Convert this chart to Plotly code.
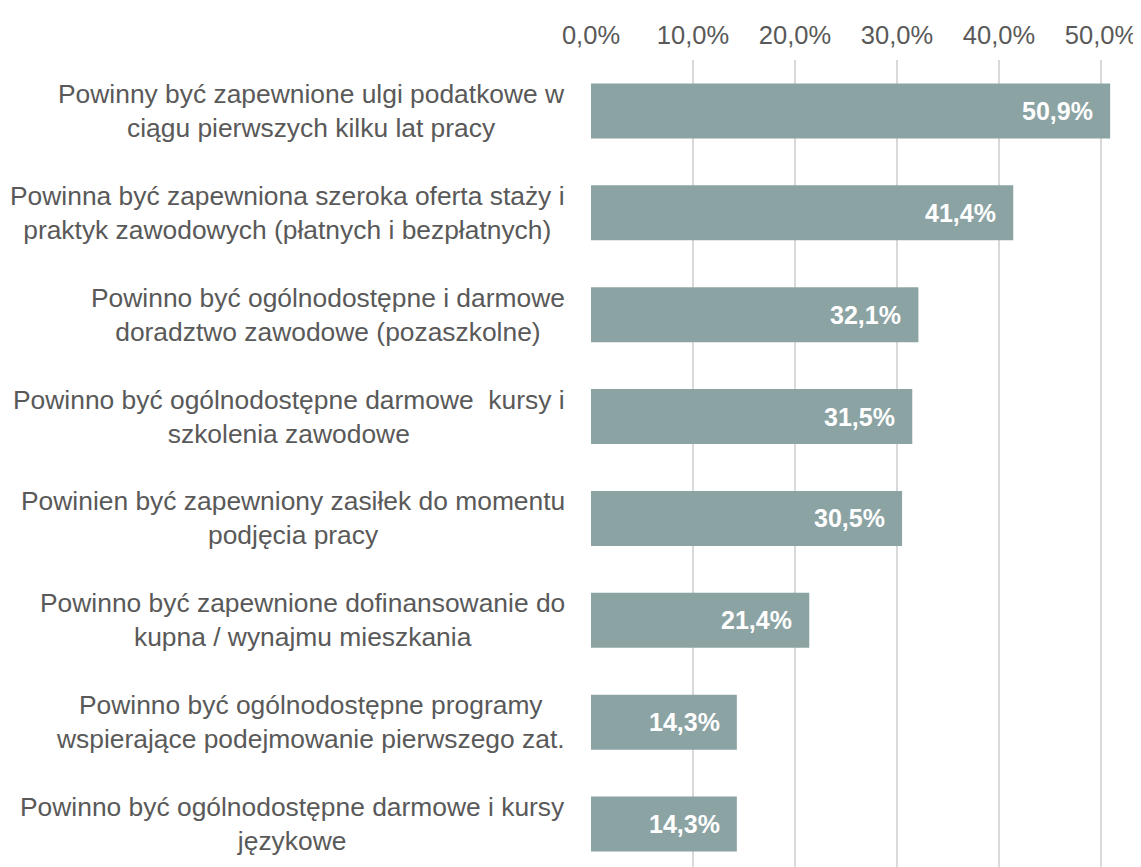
import plotly.graph_objects as go

categories = [
    "Powinny być zapewnione ulgi podatkowe w<br>ciągu pierwszych kilku lat pracy",
    "Powinna być zapewniona szeroka oferta staży i<br>praktyk zawodowych (płatnych i bezpłatnych)",
    "Powinno być ogólnodostępne i darmowe<br>doradztwo zawodowe (pozaszkolne)",
    "Powinno być ogólnodostępne darmowe  kursy i<br>szkolenia zawodowe",
    "Powinien być zapewniony zasiłek do momentu<br>podjęcia pracy",
    "Powinno być zapewnione dofinansowanie do<br>kupna / wynajmu mieszkania",
    "Powinno być ogólnodostępne programy<br>wspierające podejmowanie pierwszego zat.",
    "Powinno być ogólnodostępne darmowe i kursy<br>językowe",
]
values = [0.509, 0.414, 0.321, 0.315, 0.305, 0.214, 0.143, 0.143]
tick_values = [0, 0.1, 0.2, 0.3, 0.4, 0.5]

ypos = list(range(len(categories)))
FONT = "Liberation Sans, Arial, sans-serif"

fig = go.Figure(
    go.Bar(
        x=values,
        y=ypos,
        orientation="h",
        marker=dict(color="#8CA3A4", line=dict(width=0)),
        width=0.54,
        hoverinfo="x",
    )
)

for i, (cat, v) in enumerate(zip(categories, values)):
    fig.add_annotation(
        x=0, xref="paper", y=i, yref="y",
        text=cat, showarrow=False,
        xanchor="right", yanchor="middle", align="center",
        xshift=-24,
        font=dict(size=26.4, color="#595959", family=FONT),
    )
    fig.add_annotation(
        x=v, xref="x", y=i, yref="y",
        text=f"<b>{v*100:.1f}%</b>".replace(".", ","), showarrow=False,
        xanchor="right", yanchor="middle", xshift=-15,
        font=dict(size=25, color="white", family=FONT),
    )

fig.update_layout(
    width=1141, height=867,
    margin=dict(l=583, r=16, t=52, b=0),
    plot_bgcolor="white", paper_bgcolor="white",
    separators=", ",
    showlegend=False,
    bargap=0.46,
    font=dict(family=FONT, color="#595959", size=26),
)
fig.update_xaxes(
    side="top", range=[0, 0.5314], tickvals=tick_values, tickformat=".1%",
    showgrid=True, gridcolor="#D9D9D9", gridwidth=2,
    zeroline=False, showline=False, ticks="",
    tickfont=dict(size=25.5, color="#595959", family=FONT),
    ticklabelstandoff=10,
    automargin=False,
)
fig.update_yaxes(
    range=[7.5, -0.5], showticklabels=False, showgrid=False,
    zeroline=False, showline=False, ticks="", automargin=False,
)

fig.write_html("out.html")
